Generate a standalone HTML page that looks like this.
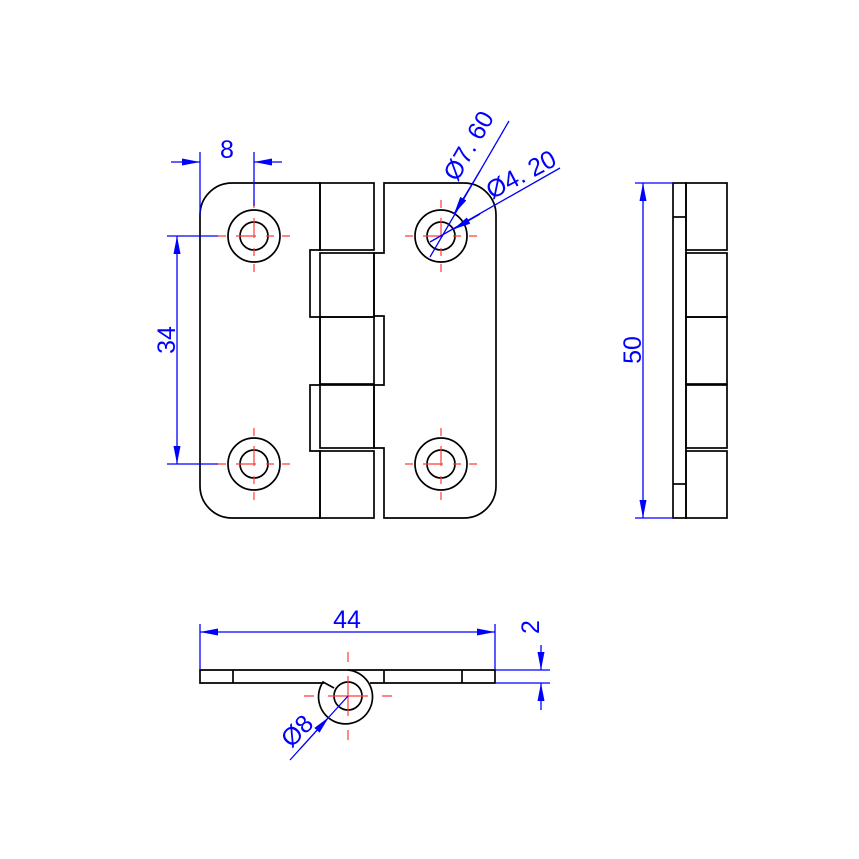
<!DOCTYPE html>
<html><head><meta charset="utf-8"><style>html,body{margin:0;padding:0;background:#fff}svg{display:block}</style></head><body>
<svg width="859" height="859" viewBox="0 0 859 859" xmlns="http://www.w3.org/2000/svg" font-family="Liberation Sans, sans-serif">
<defs>
<marker id="a" viewBox="0 0 18 7" refX="18" refY="3.5" markerWidth="18" markerHeight="7" markerUnits="userSpaceOnUse" orient="auto"><path d="M0,0 L18,3.5 L0,7 Z" fill="#0000ff"/></marker>
</defs>
<g fill="none" stroke="#000" stroke-width="1.7">
<path d="M320,183 H232 A32,32 0 0 0 200,215 V486 A32,32 0 0 0 232,518 H320 V451 H310 V385 H320 V317 H310 V250 H320 Z"/>
<path d="M384,183 H464 A32,32 0 0 1 496,215 V486 A32,32 0 0 1 464,518 H384 V448 H374 V385 H384 V316 H374 V253 H384 Z"/>
<rect x="320" y="183" width="54" height="67"/>
<rect x="320" y="253" width="54" height="64"/>
<rect x="320" y="317" width="54" height="67"/>
<rect x="320" y="385" width="54" height="63"/>
<rect x="320" y="451" width="54" height="67"/>
<circle cx="254" cy="236" r="26"/><circle cx="254" cy="236" r="14"/>
<circle cx="441" cy="236" r="26"/><circle cx="441" cy="236" r="14"/>
<circle cx="254" cy="464" r="26"/><circle cx="254" cy="464" r="14"/>
<circle cx="441" cy="464" r="26"/><circle cx="441" cy="464" r="14"/>
<rect x="673" y="183" width="13" height="335"/>
<line x1="673" y1="217" x2="686" y2="217"/><line x1="673" y1="484" x2="686" y2="484"/>
<rect x="686" y="183" width="41" height="67"/>
<rect x="686" y="253" width="41" height="64"/>
<rect x="686" y="317" width="41" height="67"/>
<rect x="686" y="385" width="41" height="63"/>
<rect x="686" y="451" width="41" height="67"/>
<path d="M348,670 H200 V683 H324"/>
<path d="M370,683 H495 V670 H348"/>
<line x1="233" y1="670" x2="233" y2="683"/>
<line x1="384" y1="670" x2="384" y2="683"/>
<line x1="462" y1="670" x2="462" y2="683"/>
<path d="M348,670 A27,27 0 1 1 323,682 L334,688"/>
<circle cx="348" cy="696" r="14"/>
</g>
<g stroke="#ff3b3b" stroke-width="1.2" fill="none">
<line x1="218" y1="236" x2="290" y2="236" stroke-dasharray="8,10,20,10,8"/>
<line x1="254" y1="200" x2="254" y2="272" stroke-dasharray="8,10,20,10,8"/>
<line x1="405" y1="236" x2="477" y2="236" stroke-dasharray="8,10,20,10,8"/>
<line x1="441" y1="200" x2="441" y2="272" stroke-dasharray="8,10,20,10,8"/>
<line x1="218" y1="464" x2="290" y2="464" stroke-dasharray="8,10,20,10,8"/>
<line x1="254" y1="428" x2="254" y2="500" stroke-dasharray="8,10,20,10,8"/>
<line x1="405" y1="464" x2="477" y2="464" stroke-dasharray="8,10,20,10,8"/>
<line x1="441" y1="428" x2="441" y2="500" stroke-dasharray="8,10,20,10,8"/>
<line x1="304" y1="696" x2="392" y2="696" stroke-dasharray="10,14,40,14,10"/>
<line x1="348" y1="652" x2="348" y2="740" stroke-dasharray="10,14,40,14,10"/>
</g>
<g stroke="#0000ff" stroke-width="1.3" fill="none">
<line x1="200" y1="152" x2="200" y2="215"/>
<line x1="254" y1="152" x2="254" y2="206"/>
<line x1="171" y1="162" x2="200" y2="162" marker-end="url(#a)"/>
<line x1="282" y1="162" x2="254" y2="162" marker-end="url(#a)"/>
<line x1="167" y1="236" x2="218" y2="236"/>
<line x1="167" y1="464" x2="218" y2="464"/>
<line x1="177" y1="350" x2="177" y2="236" marker-end="url(#a)"/>
<line x1="177" y1="350" x2="177" y2="464" marker-end="url(#a)"/>
<line x1="430" y1="257" x2="509" y2="121"/>
<line x1="480" y1="171" x2="454" y2="214" marker-end="url(#a)"/>
<line x1="430" y1="242" x2="560" y2="168"/>
<line x1="480" y1="214" x2="453" y2="229.5" marker-end="url(#a)"/>
<line x1="635" y1="183" x2="673" y2="183"/>
<line x1="635" y1="518" x2="673" y2="518"/>
<line x1="643" y1="350" x2="643" y2="183" marker-end="url(#a)"/>
<line x1="643" y1="350" x2="643" y2="518" marker-end="url(#a)"/>
<line x1="200" y1="624" x2="200" y2="670"/>
<line x1="495" y1="624" x2="495" y2="670"/>
<line x1="348" y1="632" x2="200" y2="632" marker-end="url(#a)"/>
<line x1="348" y1="632" x2="495" y2="632" marker-end="url(#a)"/>
<line x1="495" y1="670" x2="550" y2="670"/>
<line x1="495" y1="683" x2="550" y2="683"/>
<line x1="541" y1="645" x2="541" y2="670" marker-end="url(#a)"/>
<line x1="541" y1="710" x2="541" y2="683" marker-end="url(#a)"/>
<line x1="290" y1="760" x2="348" y2="696"/>
<line x1="300" y1="749" x2="329" y2="717" marker-end="url(#a)"/>
</g>
<g fill="#0000ff" font-size="25">
<text x="227" y="158" text-anchor="middle">8</text>
<text x="347" y="628" text-anchor="middle">44</text>
<text transform="translate(175,340) rotate(-90)" text-anchor="middle">34</text>
<text transform="translate(641,350) rotate(-90)" text-anchor="middle">50</text>
<text transform="translate(539,627) rotate(-90)" text-anchor="middle">2</text>
<text transform="translate(476,150) rotate(-60)" text-anchor="middle">Ø7. 60</text>
<text transform="translate(525,182) rotate(-28)" text-anchor="middle">Ø4. 20</text>
<text transform="translate(303,737) rotate(-45)" text-anchor="middle">Ø8</text>
</g>
</svg>
</body></html>
